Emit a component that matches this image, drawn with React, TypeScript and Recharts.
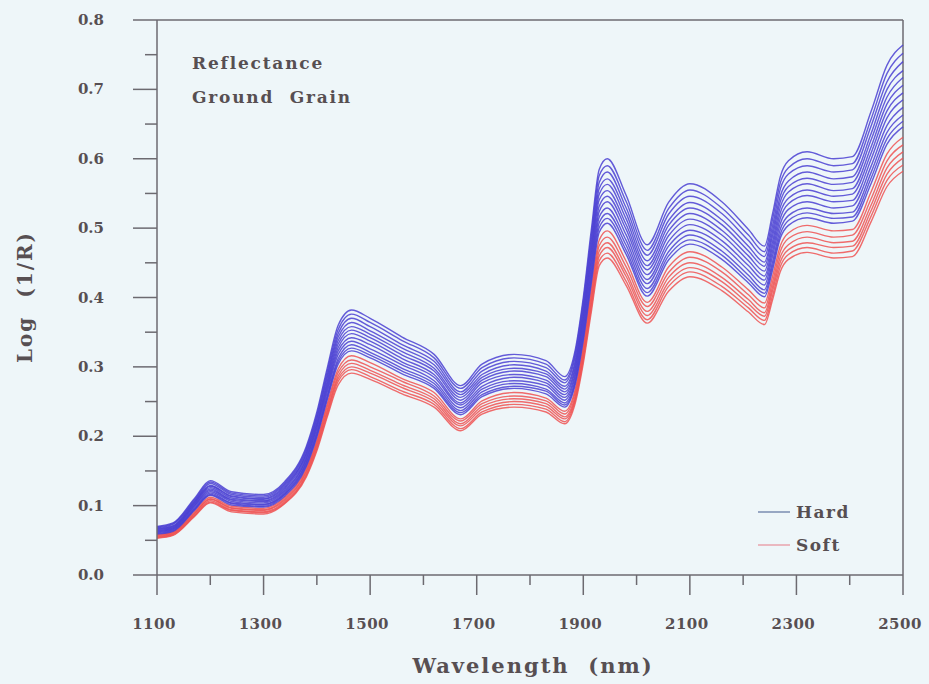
import React from 'react';
import { LineChart, Line, XAxis, YAxis, ReferenceLine } from 'recharts';

const wavelengths = [1100, 1130, 1170, 1200, 1240, 1300, 1340, 1380, 1400, 1420, 1440, 1465, 1500, 1560, 1620, 1670, 1710, 1770, 1830, 1865, 1885, 1900, 1915, 1930, 1945, 1980, 2020, 2060, 2100, 2160, 2210, 2240, 2255, 2270, 2285, 2320, 2370, 2405, 2440, 2470, 2500];

const hard1 = [0.070, 0.075, 0.110, 0.136, 0.120, 0.116, 0.135, 0.185, 0.235, 0.300, 0.360, 0.382, 0.370, 0.343, 0.318, 0.273, 0.304, 0.318, 0.309, 0.286, 0.325, 0.400, 0.497, 0.585, 0.600, 0.548, 0.476, 0.537, 0.564, 0.538, 0.498, 0.474, 0.520, 0.575, 0.597, 0.610, 0.600, 0.603, 0.668, 0.735, 0.764];
const hard2 = [0.069, 0.074, 0.108, 0.134, 0.118, 0.114, 0.133, 0.182, 0.231, 0.295, 0.354, 0.376, 0.364, 0.338, 0.313, 0.269, 0.299, 0.313, 0.304, 0.281, 0.320, 0.394, 0.489, 0.576, 0.590, 0.539, 0.468, 0.528, 0.555, 0.529, 0.490, 0.466, 0.512, 0.566, 0.587, 0.600, 0.590, 0.593, 0.657, 0.723, 0.752];
const hard3 = [0.068, 0.073, 0.106, 0.132, 0.116, 0.112, 0.131, 0.179, 0.227, 0.290, 0.348, 0.370, 0.358, 0.332, 0.308, 0.264, 0.294, 0.308, 0.299, 0.277, 0.315, 0.387, 0.481, 0.566, 0.581, 0.530, 0.461, 0.520, 0.546, 0.521, 0.482, 0.459, 0.503, 0.557, 0.578, 0.590, 0.581, 0.584, 0.647, 0.711, 0.740];
const hard4 = [0.067, 0.071, 0.105, 0.129, 0.114, 0.110, 0.129, 0.176, 0.224, 0.286, 0.343, 0.364, 0.352, 0.327, 0.303, 0.260, 0.289, 0.303, 0.294, 0.272, 0.309, 0.381, 0.473, 0.557, 0.571, 0.522, 0.453, 0.511, 0.537, 0.512, 0.474, 0.451, 0.495, 0.547, 0.568, 0.581, 0.571, 0.574, 0.636, 0.700, 0.727];
const hard5 = [0.066, 0.070, 0.103, 0.128, 0.113, 0.109, 0.127, 0.174, 0.220, 0.281, 0.338, 0.358, 0.347, 0.322, 0.298, 0.256, 0.285, 0.298, 0.290, 0.268, 0.305, 0.375, 0.466, 0.549, 0.563, 0.514, 0.446, 0.504, 0.529, 0.505, 0.467, 0.445, 0.488, 0.539, 0.560, 0.572, 0.563, 0.566, 0.627, 0.689, 0.717];
const hard6 = [0.065, 0.069, 0.102, 0.126, 0.111, 0.107, 0.125, 0.171, 0.217, 0.277, 0.333, 0.353, 0.342, 0.317, 0.294, 0.252, 0.281, 0.294, 0.286, 0.264, 0.300, 0.370, 0.459, 0.541, 0.554, 0.506, 0.440, 0.496, 0.521, 0.497, 0.460, 0.438, 0.480, 0.531, 0.552, 0.564, 0.554, 0.557, 0.617, 0.679, 0.706];
const hard7 = [0.064, 0.068, 0.100, 0.124, 0.109, 0.106, 0.123, 0.168, 0.214, 0.273, 0.328, 0.348, 0.337, 0.312, 0.289, 0.248, 0.277, 0.289, 0.281, 0.260, 0.296, 0.364, 0.452, 0.532, 0.546, 0.499, 0.433, 0.489, 0.513, 0.490, 0.453, 0.431, 0.473, 0.523, 0.543, 0.555, 0.546, 0.549, 0.608, 0.669, 0.695];
const hard8 = [0.063, 0.067, 0.099, 0.122, 0.108, 0.104, 0.121, 0.166, 0.211, 0.269, 0.323, 0.342, 0.332, 0.307, 0.285, 0.245, 0.272, 0.285, 0.277, 0.256, 0.291, 0.358, 0.445, 0.524, 0.538, 0.491, 0.426, 0.481, 0.505, 0.482, 0.446, 0.425, 0.466, 0.515, 0.535, 0.547, 0.538, 0.540, 0.599, 0.659, 0.685];
const hard9 = [0.062, 0.066, 0.097, 0.120, 0.106, 0.102, 0.119, 0.163, 0.207, 0.265, 0.318, 0.337, 0.326, 0.303, 0.280, 0.241, 0.268, 0.280, 0.273, 0.252, 0.287, 0.353, 0.438, 0.516, 0.529, 0.483, 0.420, 0.474, 0.497, 0.475, 0.439, 0.418, 0.459, 0.507, 0.527, 0.538, 0.529, 0.532, 0.589, 0.648, 0.674];
const hard10 = [0.061, 0.065, 0.095, 0.118, 0.104, 0.101, 0.117, 0.161, 0.204, 0.260, 0.312, 0.332, 0.321, 0.298, 0.276, 0.237, 0.264, 0.276, 0.268, 0.248, 0.282, 0.347, 0.431, 0.508, 0.521, 0.476, 0.413, 0.466, 0.490, 0.467, 0.432, 0.411, 0.451, 0.499, 0.518, 0.529, 0.521, 0.523, 0.580, 0.638, 0.663];
const hard11 = [0.060, 0.064, 0.094, 0.116, 0.103, 0.099, 0.116, 0.158, 0.201, 0.257, 0.308, 0.327, 0.317, 0.294, 0.272, 0.234, 0.260, 0.272, 0.265, 0.245, 0.278, 0.342, 0.425, 0.501, 0.514, 0.469, 0.407, 0.460, 0.483, 0.461, 0.426, 0.406, 0.445, 0.492, 0.511, 0.522, 0.514, 0.516, 0.572, 0.629, 0.654];
const hard12 = [0.059, 0.063, 0.093, 0.115, 0.101, 0.098, 0.114, 0.156, 0.199, 0.254, 0.304, 0.323, 0.313, 0.290, 0.269, 0.231, 0.257, 0.269, 0.261, 0.242, 0.275, 0.338, 0.420, 0.494, 0.507, 0.463, 0.402, 0.454, 0.477, 0.455, 0.421, 0.401, 0.439, 0.486, 0.504, 0.515, 0.507, 0.510, 0.564, 0.621, 0.646];

const soft1 = [0.058, 0.062, 0.091, 0.112, 0.099, 0.096, 0.112, 0.153, 0.194, 0.248, 0.297, 0.316, 0.306, 0.283, 0.263, 0.225, 0.251, 0.263, 0.255, 0.236, 0.268, 0.330, 0.411, 0.483, 0.496, 0.453, 0.393, 0.444, 0.466, 0.444, 0.411, 0.392, 0.430, 0.475, 0.493, 0.504, 0.496, 0.498, 0.552, 0.607, 0.631];
const soft2 = [0.057, 0.061, 0.089, 0.110, 0.097, 0.094, 0.110, 0.150, 0.191, 0.244, 0.292, 0.310, 0.300, 0.279, 0.258, 0.222, 0.247, 0.258, 0.251, 0.232, 0.264, 0.325, 0.404, 0.475, 0.487, 0.445, 0.387, 0.436, 0.458, 0.437, 0.404, 0.385, 0.422, 0.467, 0.485, 0.495, 0.487, 0.490, 0.542, 0.597, 0.620];
const soft3 = [0.056, 0.060, 0.088, 0.109, 0.096, 0.093, 0.108, 0.148, 0.188, 0.239, 0.287, 0.305, 0.295, 0.274, 0.254, 0.218, 0.243, 0.254, 0.247, 0.228, 0.259, 0.319, 0.397, 0.467, 0.479, 0.437, 0.380, 0.429, 0.450, 0.429, 0.397, 0.378, 0.415, 0.459, 0.476, 0.487, 0.479, 0.481, 0.533, 0.587, 0.610];
const soft4 = [0.055, 0.059, 0.086, 0.107, 0.094, 0.091, 0.106, 0.145, 0.185, 0.236, 0.283, 0.300, 0.291, 0.270, 0.250, 0.215, 0.239, 0.250, 0.243, 0.225, 0.255, 0.314, 0.391, 0.460, 0.472, 0.431, 0.374, 0.422, 0.443, 0.423, 0.391, 0.373, 0.409, 0.452, 0.469, 0.479, 0.472, 0.474, 0.525, 0.578, 0.601];
const soft5 = [0.054, 0.058, 0.085, 0.105, 0.093, 0.090, 0.104, 0.143, 0.182, 0.232, 0.279, 0.296, 0.286, 0.265, 0.246, 0.211, 0.235, 0.246, 0.239, 0.221, 0.252, 0.310, 0.385, 0.453, 0.464, 0.424, 0.368, 0.416, 0.437, 0.416, 0.385, 0.367, 0.402, 0.445, 0.462, 0.472, 0.464, 0.467, 0.517, 0.569, 0.591];
const soft6 = [0.053, 0.057, 0.084, 0.104, 0.091, 0.088, 0.103, 0.141, 0.179, 0.229, 0.274, 0.291, 0.282, 0.261, 0.242, 0.208, 0.232, 0.242, 0.235, 0.218, 0.248, 0.305, 0.379, 0.446, 0.457, 0.418, 0.363, 0.409, 0.430, 0.410, 0.379, 0.361, 0.396, 0.438, 0.455, 0.465, 0.457, 0.459, 0.509, 0.560, 0.582];

const xTicks = [1100, 1200, 1300, 1400, 1500, 1600, 1700, 1800, 1900, 2000, 2100, 2200, 2300, 2400, 2500];
const yTicks = [0, 0.05, 0.1, 0.15, 0.2, 0.25, 0.3, 0.35, 0.4, 0.45, 0.5, 0.55, 0.6, 0.65, 0.7, 0.75, 0.8];

const hardSeries = { hard1, hard2, hard3, hard4, hard5, hard6, hard7, hard8, hard9, hard10, hard11, hard12 };
const softSeries = { soft1, soft2, soft3, soft4, soft5, soft6 };

const data = wavelengths.map((w, i) => {
  const row: Record<string, number> = { w };
  Object.entries(hardSeries).forEach(([k, arr]) => { row[k] = arr[i]; });
  Object.entries(softSeries).forEach(([k, arr]) => { row[k] = arr[i]; });
  return row;
});

const BG = '#eef6f9';
const AXIS = '#6c6a70';
const TEXT = '#574f52';
const FONT = '"DejaVu Serif", serif';
const BLUE = '#4a3fd2';
const RED = '#ef5252';

const YTick = (props: any) => {
  const { x, y, payload } = props;
  const v = payload.value;
  const major = Math.round(v * 100) % 10 === 0;
  return (
    <g>
      <line x1={x - (major ? 24 : 12)} x2={x} y1={y} y2={y} stroke={AXIS} strokeWidth={1.5} />
      {major && (
        <text x={x - 53} y={y} dy={5} textAnchor="end" fontFamily={FONT} fontWeight="bold" fontSize={15} fill={TEXT}>
          {v.toFixed(1)}
        </text>
      )}
    </g>
  );
};

const XTick = (props: any) => {
  const { x, y, payload } = props;
  const v = payload.value;
  const major = (v - 1100) % 200 === 0;
  return (
    <g>
      <line x1={x} x2={x} y1={y} y2={y + (major ? 20 : 10)} stroke={AXIS} strokeWidth={1.5} />
      {major && (
        <text x={x - 3} y={y + 54} textAnchor="middle" fontFamily={FONT} fontWeight="bold" fontSize={15} letterSpacing={0.5} fill={TEXT}>
          {v}
        </text>
      )}
    </g>
  );
};

export default function App() {
  return (
    <div style={{ position: 'absolute', left: 0, top: 0, width: 929, height: 684, background: BG }}>
      <LineChart width={929} height={684} data={data} margin={{ top: 20, right: 26, bottom: 49, left: 97 }}>
        <XAxis
          dataKey="w"
          type="number"
          domain={[1100, 2500]}
          ticks={xTicks}
          interval={0}
          tickSize={0}
          tickMargin={0}
          tickLine={false}
          tick={<XTick />}
          height={60}
          axisLine={{ stroke: AXIS, strokeWidth: 1.5 }}
        />
        <YAxis
          type="number"
          domain={[0, 0.8]}
          ticks={yTicks}
          interval={0}
          tickSize={0}
          tickMargin={0}
          tickLine={false}
          tick={<YTick />}
          width={60}
          axisLine={{ stroke: AXIS, strokeWidth: 1.5 }}
        />
        <ReferenceLine y={0.8} stroke={AXIS} strokeWidth={1.5} />
        <ReferenceLine x={2500} stroke={AXIS} strokeWidth={1.5} />
        {Object.keys(softSeries).map((k) => (
          <Line key={k} dataKey={k} type="monotone" stroke={RED} strokeWidth={1.4} strokeOpacity={0.85} dot={false} isAnimationActive={false} />
        ))}
        {Object.keys(hardSeries).map((k) => (
          <Line key={k} dataKey={k} type="monotone" stroke={BLUE} strokeWidth={1.4} strokeOpacity={0.85} dot={false} isAnimationActive={false} />
        ))}
      </LineChart>
      <svg width={929} height={684} style={{ position: 'absolute', left: 0, top: 0, pointerEvents: 'none' }}>
        <g fontFamily={FONT} fontWeight="bold" fill={TEXT}>
          <text x={192} y={69} fontSize={17} letterSpacing={1.8}>Reflectance</text>
          <text x={192} y={103} fontSize={17} letterSpacing={1.8} style={{ whiteSpace: 'pre' }}>{'Ground  Grain'}</text>
          <text x={533} y={673} fontSize={21} letterSpacing={2} textAnchor="middle" style={{ whiteSpace: 'pre' }}>{'Wavelength  (nm)'}</text>
          <text x={0} y={0} fontSize={20} letterSpacing={2} textAnchor="middle" transform="translate(32 297) rotate(-90)" style={{ whiteSpace: 'pre' }}>{'Log  (1/R)'}</text>
          <line x1={758} x2={790} y1={512} y2={512} stroke="#7a8db0" strokeWidth={1.5} />
          <text x={796} y={518} fontSize={17} letterSpacing={1.5}>Hard</text>
          <line x1={758} x2={790} y1={545} y2={545} stroke="#e9a3ad" strokeWidth={1.5} />
          <text x={796} y={551} fontSize={17} letterSpacing={1.5}>Soft</text>
        </g>
      </svg>
    </div>
  );
}
